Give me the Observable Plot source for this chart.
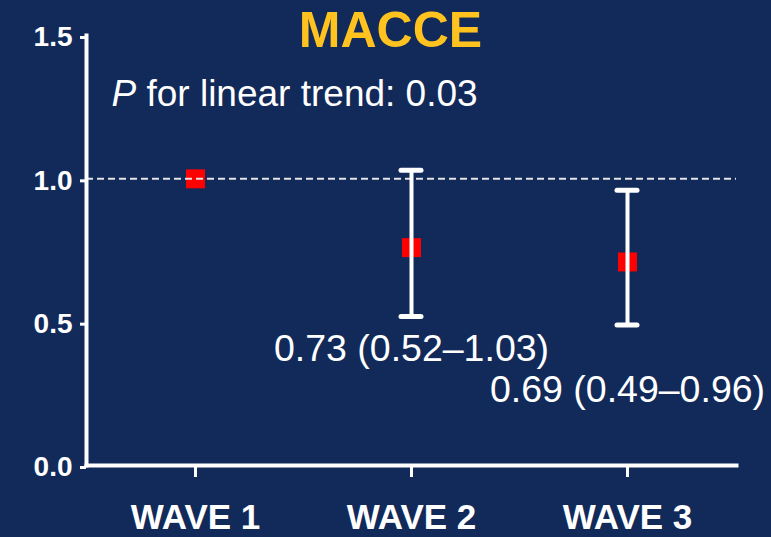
<!DOCTYPE html>
<html><head><meta charset="utf-8">
<script src="https://cdn.jsdelivr.net/npm/d3@7"></script>
<script src="https://cdn.jsdelivr.net/npm/@observablehq/plot@0.6"></script>
<style>
html,body{margin:0;padding:0;background:#112a5a;}
#chart svg{display:block;}
</style></head><body><div id="chart"></div>
<script>
const waves = ["WAVE 1", "WAVE 2", "WAVE 3"];
const estimates = [1.0, 0.76, 0.71];
const lower = [null, 0.52, 0.49];
const upper = [null, 1.03, 0.96];
const ciLabels = ["", "0.73 (0.52–1.03)", "0.69 (0.49–0.96)"];
const yTicks = [0, 0.5, 1.0, 1.5];
const title = "MACCE";
const trendText = "P for linear trend: 0.03";
const referenceValue = 1.0;

const rows = waves.map((w, i) => ({wave: w, est: estimates[i], lo: lower[i], hi: upper[i], label: ciLabels[i]}));
const ci = rows.filter(d => d.lo != null);
const font = "'Liberation Sans', Arial, Helvetica, sans-serif";

const chart = Plot.plot({
  width: 771, height: 537,
  marginLeft: 86, marginRight: 35, marginTop: 35, marginBottom: 72,
  style: {background: "#112a5a", color: "white", fontFamily: font},
  x: {type: "band", domain: waves, padding: 0},
  y: {domain: [0, 1.5]},
  marks: [
    Plot.axisY({ticks: yTicks, tickFormat: d => d.toFixed(1), fontSize: 28, fontWeight: "bold",
      tickSize: 6, tickPadding: 8, dy: 2, color: "white", strokeWidth: 3, label: null}),
    Plot.axisX({fontSize: 35, fontWeight: "bold", tickSize: 12, tickPadding: 27,
      color: "white", strokeWidth: 3, label: null}),
    Plot.dot(rows, {x: "wave", y: "est", symbol: "square", r: 10.7, fill: "#ff0000", stroke: null}),
    Plot.ruleY([referenceValue], {stroke: "#e4e4e4", strokeWidth: 2, strokeDasharray: "7,4"}),
    Plot.ruleX(ci, {x: "wave", y1: "lo", y2: "hi", stroke: "white", strokeWidth: 4}),
    Plot.tickY(ci, {x: "wave", y: "lo", stroke: "white", strokeWidth: 5, inset: 98, strokeLinecap: "round"}),
    Plot.tickY(ci, {x: "wave", y: "hi", stroke: "white", strokeWidth: 5, inset: 98, strokeLinecap: "round"}),
    Plot.text(ci.slice(0, 1), {x: "wave", y: "lo", text: "label", lineAnchor: "bottom", dy: 45,
      fontSize: 37.5, fill: "white"}),
    Plot.text(ci.slice(1, 2), {x: "wave", y: "lo", text: "label", lineAnchor: "bottom", dy: 77,
      fontSize: 37.5, fill: "white"}),
    Plot.frame({anchor: "left", stroke: "white", strokeWidth: 4}),
    Plot.frame({anchor: "bottom", stroke: "white", strokeWidth: 4}),
    Plot.text([title], {frameAnchor: "top", dx: -21, dy: 11, lineAnchor: "bottom",
      fontSize: 50, fontWeight: "bold", fill: "#ffc21f"}),
    Plot.text([trendText], {frameAnchor: "top-left", textAnchor: "start", dx: 25, dy: 70,
      lineAnchor: "bottom", fontSize: 37, fill: "white"})
  ]
});
document.getElementById("chart").appendChild(chart);

// italic "P" in the trend text
d3.select(chart).selectAll("text").filter(function() { return this.textContent === trendText; })
  .each(function() {
    const t = d3.select(this);
    t.text(null).style("white-space", "pre");
    t.append("tspan").attr("font-style", "italic").text("P");
    t.append("tspan").text(trendText.slice(1));
  });
</script>
</body></html>
